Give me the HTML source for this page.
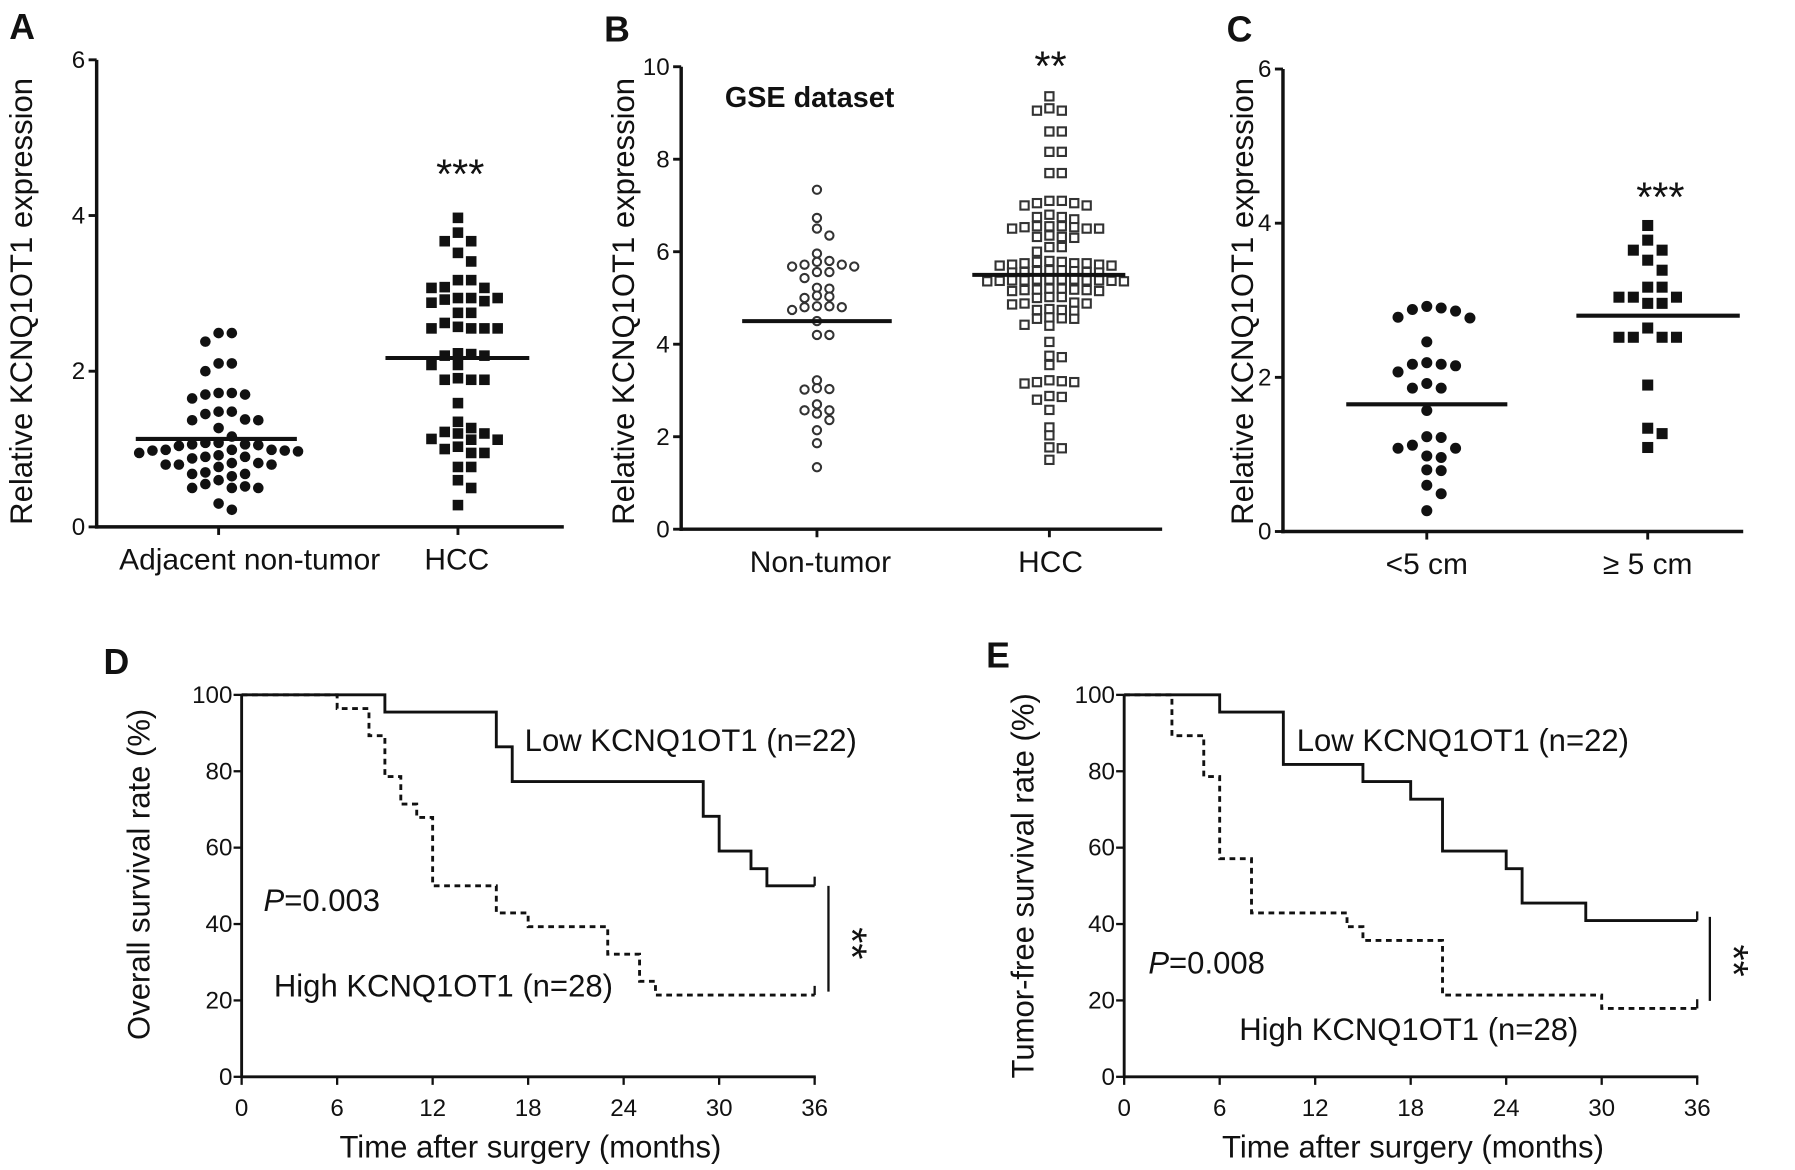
<!DOCTYPE html>
<html><head><meta charset="utf-8"><style>
html,body{margin:0;padding:0;background:#fff}
svg{display:block}
text{font-family:"Liberation Sans",Arial,sans-serif;fill:#111}
</style></head><body>
<svg id="fig" width="1795" height="1170" viewBox="0 0 1560 1017" preserveAspectRatio="none" xmlns="http://www.w3.org/2000/svg"></svg>
<script>
// ---- Panel A data ----
const aCategories = ["Adjacent non-tumor", "HCC"];
const aAdjacent = [2.49,2.49,2.38,2.1,2.1,2.0,1.72,1.7,1.7,1.72,1.65,1.48,1.48,1.45,1.38,1.37,1.37,1.27,1.16,1.08,1.06,1.05,1.04,1.06,1.08,0.99,0.99,0.97,0.99,0.98,0.9,0.88,0.9,0.92,0.95,0.98,0.82,0.8,0.8,0.82,0.8,0.77,0.7,0.68,0.68,0.65,0.6,0.55,0.52,0.5,0.5,0.5,0.3,0.22];
const aHCC = [3.97,3.78,3.67,3.67,3.52,3.41,3.17,3.17,3.08,3.07,3.07,2.94,2.94,2.94,2.9,2.88,2.92,2.75,2.75,2.62,2.57,2.55,2.55,2.55,2.55,2.2,2.2,2.22,2.23,2.08,2.08,1.89,1.89,1.89,1.91,1.59,1.35,1.27,1.2,1.2,1.22,1.12,1.12,1.13,1.03,1.0,0.95,0.95,0.77,0.77,0.6,0.5,0.28];
const aMeans = [1.13, 2.17];
const aTicks = [0,2,4,6];
// ---- Panel B data ----
const bCategories = ["Non-tumor", "HCC"];
const bNonTumor = [7.34,6.73,6.5,6.35,5.96,5.8,5.72,5.68,5.68,5.72,5.78,5.56,5.56,5.43,5.22,5.2,5.05,5.03,5.0,4.82,4.8,4.8,4.82,4.74,4.5,4.2,4.2,3.22,3.05,3.03,3.02,2.7,2.57,2.57,2.5,2.36,2.14,1.86,1.34];
const bHCC = [9.36,9.1,9.05,9.05,8.6,8.6,8.16,8.16,7.7,7.7,7.1,7.1,7.05,7.05,7.0,7.0,6.8,6.75,6.75,6.7,6.55,6.55,6.53,6.5,6.5,6.5,6.53,6.55,6.35,6.32,6.32,6.3,6.1,6.1,6.0,5.8,5.78,5.75,5.75,5.72,5.72,5.7,5.7,5.75,5.78,5.6,5.58,5.56,5.55,5.56,5.58,5.6,5.55,5.4,5.4,5.38,5.38,5.37,5.36,5.36,5.37,5.38,5.38,5.4,5.4,5.2,5.18,5.17,5.15,5.15,5.17,5.18,5.2,5.02,5.02,5.0,4.9,4.88,4.88,4.86,4.76,4.74,4.74,4.72,4.58,4.56,4.55,4.55,4.42,4.4,4.05,3.75,3.72,3.55,3.22,3.2,3.18,3.18,3.15,2.88,2.86,2.8,2.58,2.2,2.03,1.77,1.75,1.5];
const bMeans = [4.5, 5.5];
const bTicks = [0,2,4,6,8,10];
// ---- Panel C data ----
const cCategories = ["<5 cm", "≥ 5 cm"];
const cSmall = [2.92,2.9,2.88,2.86,2.78,2.77,2.46,2.19,2.17,2.17,2.15,2.07,1.92,1.86,1.86,1.57,1.23,1.22,1.12,1.08,1.08,0.98,0.96,0.8,0.79,0.6,0.49,0.27];
const cLarge = [3.97,3.78,3.65,3.65,3.52,3.39,3.17,3.17,3.04,3.04,3.04,2.96,2.96,2.64,2.52,2.52,2.52,2.52,1.9,1.34,1.27,1.09];
const cMeans = [1.65, 2.8];
const cTicks = [0,2,4,6];
// ---- Panel D data (Kaplan-Meier) ----
const dLowTimes = [0,9,16,17,29,30,32,33,36];
const dLowSurv  = [100,95.5,86.4,77.3,68.2,59.1,54.5,50,50];
const dHighTimes = [0,6,8,9,10,11,12,16,18,23,25,26,36];
const dHighSurv  = [100,96.4,89.3,78.6,71.4,67.9,50,42.9,39.3,32.1,25,21.4,21.4];
// ---- Panel E data ----
const eLowTimes = [0,6,10,15,18,20,24,25,29,36];
const eLowSurv  = [100,95.5,81.8,77.3,72.7,59.1,54.5,45.5,40.9,40.9];
const eHighTimes = [0,3,5,6,8,14,15,20,29,30,36];
const eHighSurv  = [100,89.3,78.6,57.1,42.9,39.3,35.7,21.4,21.4,17.9,17.9];
const kmXTicks = [0,6,12,18,24,30,36];
const kmYTicks = [0,20,40,60,80,100];

const NS="http://www.w3.org/2000/svg";
const svg=document.getElementById('fig');
function el(tag,attrs,parent){const e=document.createElementNS(NS,tag);for(const k in attrs)e.setAttribute(k,attrs[k]);(parent||svg).appendChild(e);return e;}
function txt(s,attrs,parent){const t=el('text',attrs,parent);t.textContent=s;return t;}

function scatterPanel(o){
  const g=el('g',{});
  
  
  const y=v=>o.y0-(v-o.ymin)/(o.ymax-o.ymin)*(o.y0-o.y1);
  const ya=el('line',{x1:o.ax,y1:y(o.ymax),x2:o.ax,y2:o.y0+1.5,stroke:'#111','stroke-width':3},g);
  
  const xa=el('line',{x1:o.ax-1.5,y1:o.y0,x2:o.xend,y2:o.y0,stroke:'#111','stroke-width':3},g);
  
  o.ticks.forEach(t=>{
    el('line',{x1:o.ax-7,y1:y(t),x2:o.ax,y2:y(t),stroke:'#111','stroke-width':2.5},g);
    const tl=txt(String(t),{x:o.ax-10,y:y(t)+7,'font-size':21,'text-anchor':'end'},g);
    
  });
  o.cats.forEach((c,i)=>{
    el('line',{x1:o.cx[i],y1:o.y0,x2:o.cx[i],y2:o.y0+7,stroke:'#111','stroke-width':2.5},g);
    const cl=txt(c,{x:o.lx[i],y:o.y0+37,'font-size':26,'text-anchor':'middle'},g);
    
  });
  const yt=txt(o.ytitle,{x:0,y:0,'font-size':27,'text-anchor':'middle',transform:`translate(${o.tx},${o.ty}) rotate(-90)`},g);
  
  o.series.forEach((vals,i)=>{
    const sorted=[...vals].sort((a,b)=>b-a);
    const placed=[];
    const sp=o.spacing;
    sorted.forEach(v=>{
      const py=y(v);
      let k=0,px;
      for(;;k++){
        const off=(k===0?0:(k%2? Math.ceil(k/2): -Math.ceil(k/2)))*sp;
        px=o.cx[i]+off;
        if(!placed.some(p=>Math.abs(p[0]-px)<sp*0.5 && Math.abs(p[1]-py)<sp*o.coll))break;
      }
      placed.push([px,py]);
      let m;
      const sh=o.shapes[i], r=o.r;
      if(sh==='dot') m=el('circle',{cx:px,cy:py,r:r,fill:'#111'},g);
      else if(sh==='sq') m=el('rect',{x:px-r,y:py-r,width:2*r,height:2*r,fill:'#111'},g);
      else if(sh==='ocirc') m=el('circle',{cx:px,cy:py,r:r-1,fill:'#fff',stroke:'#333','stroke-width':1.8},g);
      else m=el('rect',{x:px-r+1,y:py-r+1,width:2*r-2,height:2*r-2,fill:'#fff',stroke:'#333','stroke-width':1.8},g);
      
      
    });
    const ml=el('line',{x1:o.mx[i][0],y1:y(o.means[i]),x2:o.mx[i][1],y2:y(o.means[i]),stroke:'#111','stroke-width':3.5},g);
    
    
  });
  return g;
}

function kmPanel(o){
  const g=el('g',{});
  
  
  const x=t=>o.ax+t/36*(o.x36-o.ax);
  const y=v=>o.y0-v/100*(o.y0-o.y100);
  const ya=el('line',{x1:o.ax,y1:o.y100,x2:o.ax,y2:o.y0+1,stroke:'#111','stroke-width':2.5},g);
  
  const xa=el('line',{x1:o.ax-1,y1:o.y0,x2:x(36)+1,y2:o.y0,stroke:'#111','stroke-width':2.5},g);
  
  kmYTicks.forEach(t=>{
    el('line',{x1:o.ax-7,y1:y(t),x2:o.ax,y2:y(t),stroke:'#111','stroke-width':2},g);
    const tl=txt(String(t),{x:o.ax-8,y:y(t)+7,'font-size':21,'text-anchor':'end'},g);
    
  });
  kmXTicks.forEach(t=>{
    el('line',{x1:x(t),y1:o.y0,x2:x(t),y2:o.y0+7,stroke:'#111','stroke-width':2},g);
    const tl=txt(String(t),{x:x(t),y:o.y0+34,'font-size':21,'text-anchor':'middle'},g);
    
  });
  const xt=txt('Time after surgery (months)',{x:(o.ax+o.x36)/2+2,y:o.y0+70,'font-size':27,'text-anchor':'middle'},g);
  
  const yt=txt(o.ytitle,{x:0,y:0,'font-size':27,'text-anchor':'middle',transform:`translate(${o.tx},${o.ty}) rotate(-90)`},g);
  
  function step(ts,ss,dash,nm){
    let d=`M${x(ts[0])},${y(ss[0])}`;
    for(let i=1;i<ts.length;i++){d+=` H${x(ts[i])} V${y(ss[i])}`;}
    const p=el('path',{d:d,fill:'none',stroke:'#111','stroke-width':2.5,'stroke-dasharray':dash?'5,4':'none'},g);
    
    
    const last=ss[ss.length-1];
    el('line',{x1:x(36),y1:y(last),x2:x(36),y2:y(last)-8,stroke:'#111','stroke-width':2},g);
  }
  step(o.lt,o.ls,false,'low-expression-curve');
  step(o.ht,o.hs,true,'high-expression-curve');
  return {g,x,y};
}

scatterPanel({name:'panel-a',ax:84,y0:458,y1:52,ymin:0,ymax:6,xend:490,ticks:aTicks,cats:aCategories,cx:[190,398],lx:[217,397],
  ytitle:'Relative KCNQ1OT1 expression',tx:28,ty:262,series:[aAdjacent,aHCC],shapes:['dot','sq'],r:4.6,spacing:11.5,coll:0.85,
  means:aMeans,mx:[[118,258],[335,460]]});
scatterPanel({name:'panel-b',ax:592,y0:460,y1:58,ymin:0,ymax:10,xend:1010,ticks:bTicks,cats:bCategories,cx:[710,912],lx:[713,913],
  ytitle:'Relative KCNQ1OT1 expression',tx:551,ty:262,series:[bNonTumor,bHCC],shapes:['ocirc','osq'],r:4.6,spacing:10.8,coll:0.62,
  means:bMeans,mx:[[645,775],[845,978]]});
scatterPanel({name:'panel-c',ax:1115,y0:462,y1:60,ymin:0,ymax:6,xend:1515,ticks:cTicks,cats:cCategories,cx:[1240,1432],lx:[1240,1432],
  ytitle:'Relative KCNQ1OT1 expression',tx:1089,ty:262,series:[cSmall,cLarge],shapes:['dot','sq'],r:4.8,spacing:12.5,coll:0.85,
  means:cMeans,mx:[[1170,1310],[1370,1512]]});

kmPanel({name:'panel-d',ax:210,x36:708,y0:936,y100:604,ytitle:'Overall survival rate (%)',tx:130,ty:760,
  lt:dLowTimes,ls:dLowSurv,ht:dHighTimes,hs:dHighSurv});
kmPanel({name:'panel-e',ax:977,x36:1475,y0:936,y100:604,ytitle:'Tumor-free survival rate (%)',tx:898,ty:770,
  lt:eLowTimes,ls:eLowSurv,ht:eHighTimes,hs:eHighSurv});
</script>
<script>
(function(){
  const svg=document.getElementById('fig');
  const NS="http://www.w3.org/2000/svg";
  function t(s,a,nm){const e=document.createElementNS(NS,'text');for(const k in a)e.setAttribute(k,a[k]);e.textContent=s;
    
    
    svg.appendChild(e);return e;}
  function l(a,nm){const e=document.createElementNS(NS,'line');for(const k in a)e.setAttribute(k,a[k]);
    
    
    svg.appendChild(e);}
  t('A',{x:8,y:34,'font-size':31,'font-weight':'bold'},'panel-label-a');
  t('B',{x:525,y:36,'font-size':31,'font-weight':'bold'},'panel-label-b');
  t('C',{x:1066,y:36,'font-size':31,'font-weight':'bold'},'panel-label-c');
  t('D',{x:90,y:586,'font-size':31,'font-weight':'bold'},'panel-label-d');
  t('E',{x:857,y:580,'font-size':31,'font-weight':'bold'},'panel-label-e');
  t('***',{x:400,y:164,'font-size':36,'text-anchor':'middle'},'significance-a');
  t('**',{x:913,y:70,'font-size':36,'text-anchor':'middle'},'significance-b');
  t('***',{x:1443,y:184,'font-size':36,'text-anchor':'middle'},'significance-c');
  t('GSE dataset',{x:630,y:93,'font-size':25,'font-weight':'bold'},'dataset-label');
  t('Low KCNQ1OT1  (n=22)',{x:456,y:653,'font-size':27},'legend-low-d');
  t('High KCNQ1OT1 (n=28)',{x:238,y:866,'font-size':27},'legend-high-d');
  const p1=t('',{x:229,y:792,'font-size':27},'p-value-d');
  p1.innerHTML='<tspan font-style="italic">P</tspan>=0.003';
  t('Low KCNQ1OT1  (n=22)',{x:1127,y:653,'font-size':27},'legend-low-e');
  t('High KCNQ1OT1 (n=28)',{x:1077,y:904,'font-size':27},'legend-high-e');
  const p2=t('',{x:998,y:846,'font-size':27},'p-value-e');
  p2.innerHTML='<tspan font-style="italic">P</tspan>=0.008';
  l({x1:720,y1:770,x2:720,y2:862,stroke:'#111','stroke-width':2},'significance-bracket-d');
  t('**',{x:0,y:0,'font-size':36,'text-anchor':'middle',transform:'translate(728,820) rotate(90)'},'significance-d');
  l({x1:1486,y1:797,x2:1486,y2:870,stroke:'#111','stroke-width':2},'significance-bracket-e');
  t('**',{x:0,y:0,'font-size':36,'text-anchor':'middle',transform:'translate(1494,835) rotate(90)'},'significance-e');
})();
</script>
</body></html>
